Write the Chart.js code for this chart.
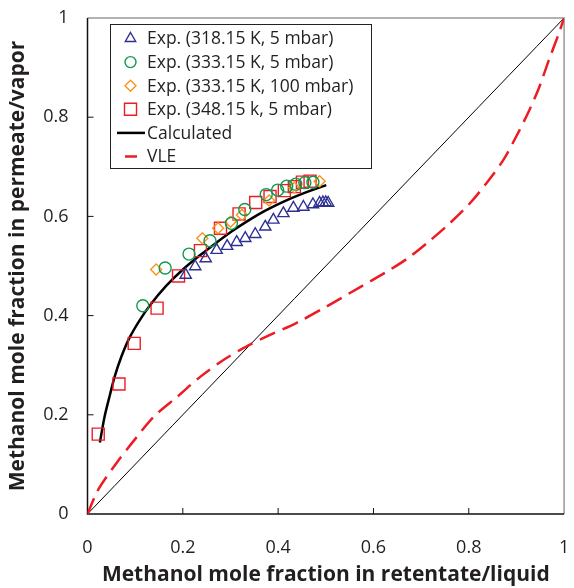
<!DOCTYPE html>
<html>
<head>
<meta charset="utf-8">
<script src="https://cdn.jsdelivr.net/npm/chart.js@4.4.1/dist/chart.umd.min.js"></script>
<style>
  html, body { margin: 0; padding: 0; background: #fff; }
  #wrap { width: 574px; height: 588px; }
</style>
</head>
<body>
<div id="wrap"><canvas id="vle"></canvas></div>
<script>
const xTicks = [0, 0.2, 0.4, 0.6, 0.8, 1];
const yTicks = [0, 0.2, 0.4, 0.6, 0.8, 1];

// Exp. 318.15 K, 5 mbar
const x318 = [0.206, 0.226, 0.248, 0.271, 0.293, 0.313, 0.331, 0.352, 0.373, 0.390, 0.411, 0.432, 0.453, 0.473, 0.487, 0.494, 0.500, 0.505];
const y318 = [0.482, 0.499, 0.515, 0.532, 0.540, 0.548, 0.556, 0.564, 0.579, 0.593, 0.606, 0.617, 0.619, 0.624, 0.627, 0.628, 0.628, 0.627];
// Exp. 333.15 K, 5 mbar
const x333 = [0.116, 0.163, 0.213, 0.257, 0.302, 0.330, 0.375, 0.399, 0.418, 0.437, 0.456, 0.473];
const y333 = [0.420, 0.496, 0.524, 0.551, 0.586, 0.614, 0.644, 0.653, 0.661, 0.665, 0.668, 0.669];
// Exp. 333.15 K, 100 mbar
const x333h = [0.144, 0.241, 0.274, 0.300, 0.324, 0.381, 0.434, 0.487];
const y333h = [0.493, 0.556, 0.576, 0.589, 0.603, 0.632, 0.658, 0.671];
// Exp. 348.15 K, 5 mbar
const x348 = [0.0225, 0.066, 0.098, 0.146, 0.191, 0.237, 0.279, 0.318, 0.353, 0.383, 0.413, 0.434, 0.451, 0.467];
const y348 = [0.161, 0.262, 0.344, 0.415, 0.480, 0.531, 0.576, 0.605, 0.628, 0.640, 0.652, 0.660, 0.669, 0.671];

// Calculated
const xCalc = [0.026, 0.036, 0.047, 0.057, 0.071, 0.088, 0.109, 0.132, 0.165, 0.199, 0.234, 0.269, 0.303, 0.338, 0.372, 0.407, 0.454, 0.501];
const yCalc = [0.144, 0.197, 0.240, 0.277, 0.317, 0.355, 0.390, 0.422, 0.460, 0.492, 0.520, 0.546, 0.570, 0.592, 0.611, 0.628, 0.647, 0.663];

// VLE
const xVle = [0, 0.0225, 0.061, 0.099, 0.140, 0.189, 0.237, 0.286, 0.334, 0.383, 0.438, 0.501, 0.573, 0.622, 0.671, 0.712, 0.760, 0.802, 0.837, 0.872, 0.899, 0.927, 0.948, 0.968, 0.989, 1];
const yVle = [0, 0.049, 0.103, 0.150, 0.197, 0.237, 0.277, 0.311, 0.338, 0.361, 0.385, 0.418, 0.458, 0.485, 0.515, 0.546, 0.586, 0.626, 0.667, 0.713, 0.760, 0.814, 0.861, 0.915, 0.969, 1];

// y = x reference
const xDiag = [0, 1];
const yDiag = [0, 1];

const pts = (xs, ys) => xs.map((x, i) => ({ x: x, y: ys[i] }));

const BLUE = '#2e3192', GREEN = '#0f9a4c', ORANGE = '#f7941d', RED = '#ed1c24';
const FONT = '"Open Sans", "Liberation Sans", sans-serif';
const TEXT = '#231f20';

const legendItems = [
  { text: 'Exp. (318.15 K, 5 mbar)', kind: 'triangle', color: BLUE, r: 6 },
  { text: 'Exp. (333.15 K, 5 mbar)', kind: 'circle', color: GREEN, r: 5.5 },
  { text: 'Exp. (333.15 K, 100 mbar)', kind: 'rectRot', color: ORANGE, r: 5.5 },
  { text: 'Exp. (348.15 k, 5 mbar)', kind: 'rect', color: RED, r: 8.5 },
  { text: 'Calculated', kind: 'line', color: '#000' },
  { text: 'VLE', kind: 'dash', color: RED }
];

const framePlugin = {
  id: 'frame',
  beforeDatasetsDraw(chart) {
    const { ctx, chartArea: a, scales } = chart;
    ctx.save();
    ctx.lineWidth = 1.5;
    ctx.strokeStyle = '#999';
    ctx.beginPath();
    ctx.moveTo(a.left, a.top);
    ctx.lineTo(a.right, a.top);
    ctx.lineTo(a.right, a.bottom);
    ctx.stroke();
    ctx.strokeStyle = '#111';
    ctx.beginPath();
    ctx.moveTo(a.left, a.top);
    ctx.lineTo(a.left, a.bottom);
    ctx.lineTo(a.right, a.bottom);
    ctx.stroke();
    ctx.lineWidth = 1;
    xTicks.slice(1, -1).forEach(v => {
      const px = scales.x.getPixelForValue(v);
      ctx.beginPath();
      ctx.moveTo(px, a.bottom);
      ctx.lineTo(px, a.bottom - 6);
      ctx.stroke();
    });
    yTicks.slice(1, -1).forEach(v => {
      const py = scales.y.getPixelForValue(v);
      ctx.beginPath();
      ctx.moveTo(a.left, py);
      ctx.lineTo(a.left + 6, py);
      ctx.stroke();
    });
    ctx.restore();
  }
};

const legendPlugin = {
  id: 'boxLegend',
  afterDraw(chart) {
    const ctx = chart.ctx;
    const left = 110.5, top = 24.5, right = 371.5, bottom = 168.5;
    ctx.save();
    ctx.fillStyle = '#fff';
    ctx.fillRect(left, top, right - left, bottom - top);
    ctx.strokeStyle = '#222';
    ctx.lineWidth = 1;
    ctx.strokeRect(left, top, right - left, bottom - top);
    ctx.font = '17.5px ' + FONT;
    ctx.textBaseline = 'middle';
    legendItems.forEach((it, i) => {
      const y = 38.5 + i * 23.6;
      const mx = 130.5;
      ctx.strokeStyle = it.color;
      ctx.fillStyle = 'rgba(0,0,0,0)';
      if (it.kind === 'line') {
        ctx.lineWidth = 2.5;
        ctx.beginPath();
        ctx.moveTo(117, y);
        ctx.lineTo(145, y);
        ctx.stroke();
      } else if (it.kind === 'dash') {
        ctx.lineWidth = 2.5;
        ctx.beginPath();
        ctx.moveTo(125, y);
        ctx.lineTo(137, y);
        ctx.stroke();
      } else {
        ctx.lineWidth = 1.4;
        Chart.helpers.drawPoint(ctx, {
          pointStyle: it.kind, radius: it.r, borderWidth: 1.4
        }, mx, y);
      }
      ctx.fillStyle = TEXT;
      ctx.fillText(it.text, 147, y + 1);
    });
    ctx.restore();
  }
};

const markerSet = (label, data, style, color, r) => ({
  label: label,
  data: data,
  showLine: false,
  pointStyle: style,
  pointRadius: r,
  pointBorderWidth: 1.4,
  pointBorderColor: color,
  pointBackgroundColor: 'rgba(0,0,0,0)',
  borderColor: color
});

const lineSet = (label, data, color, width, dash) => ({
  label: label,
  data: data,
  showLine: true,
  pointRadius: 0,
  borderColor: color,
  borderWidth: width,
  borderDash: dash,
  tension: 0.3,
  fill: false
});

new Chart(document.getElementById('vle'), {
  type: 'scatter',
  data: {
    datasets: [
      markerSet('Exp. (318.15 K, 5 mbar)', pts(x318, y318), 'triangle', BLUE, 6.5),
      markerSet('Exp. (333.15 K, 5 mbar)', pts(x333, y333), 'circle', GREEN, 6),
      markerSet('Exp. (333.15 K, 100 mbar)', pts(x333h, y333h), 'rectRot', ORANGE, 5.5),
      markerSet('Exp. (348.15 k, 5 mbar)', pts(x348, y348), 'rect', RED, 8.5),
      lineSet('Calculated', pts(xCalc, yCalc), '#000', 2.5, []),
      lineSet('VLE', pts(xVle, yVle), RED, 2.5, [17, 8]),
      lineSet('y = x', pts(xDiag, yDiag), '#000', 1, [])
    ]
  },
  options: {
    responsive: true,
    maintainAspectRatio: false,
    animation: false,
    layout: { padding: { left: 0, top: 18, right: 6, bottom: 0 } },
    plugins: {
      legend: { display: false },
      tooltip: { enabled: false }
    },
    scales: {
      x: {
        type: 'linear', min: 0, max: 1,
        afterBuildTicks: s => { s.ticks = xTicks.map(v => ({ value: v })); },
        afterFit: s => { s.height = 74; s.paddingLeft = 0; s.paddingRight = 0; },
        grid: { display: false, drawTicks: false },
        border: { display: false },
        ticks: { padding: 23, color: TEXT, font: { family: FONT, size: 18 }, maxRotation: 0,
                 callback: v => String(v) },
        title: { display: true, text: 'Methanol mole fraction in retentate/liquid', color: TEXT,
                 font: { family: FONT, size: 21, weight: 'bold' }, padding: { top: 0, bottom: 0 } }
      },
      y: {
        type: 'linear', min: 0, max: 1,
        afterBuildTicks: s => { s.ticks = yTicks.map(v => ({ value: v })); },
        afterFit: s => { s.width = 87.5; s.paddingTop = 0; s.paddingBottom = 0; },
        grid: { display: false, drawTicks: false },
        border: { display: false },
        ticks: { padding: 19, color: TEXT, font: { family: FONT, size: 18 },
                 callback: v => String(v) },
        title: { display: true, text: 'Methanol mole fraction in permeate/vapor', color: TEXT,
                 font: { family: FONT, size: 21, weight: 'bold' }, padding: { top: 5, bottom: 0 } }
      }
    }
  },
  plugins: [framePlugin, legendPlugin]
});
</script>
</body>
</html>
